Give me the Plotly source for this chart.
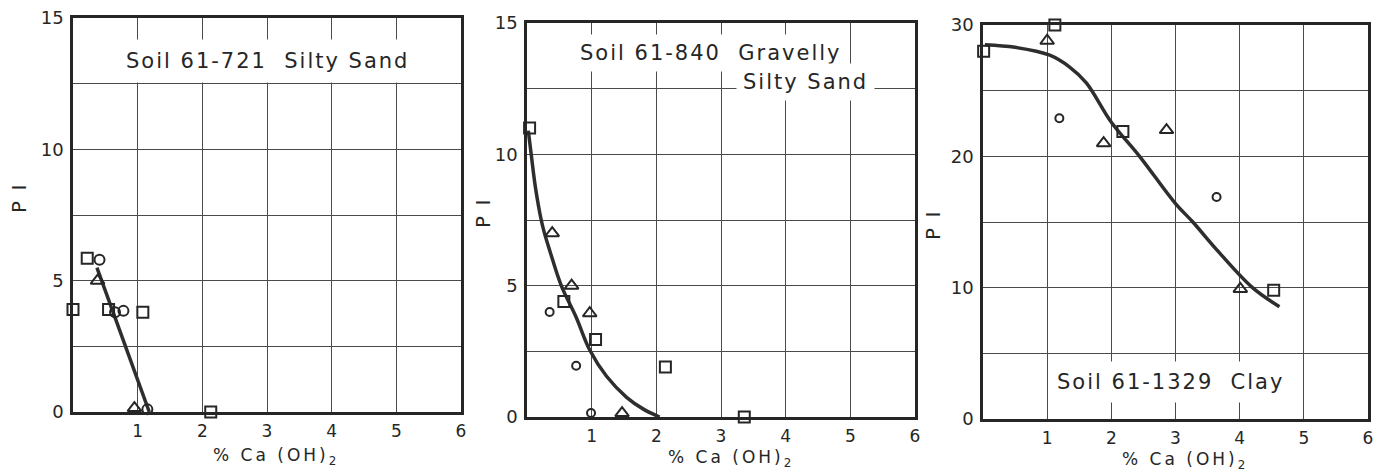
import plotly.graph_objects as go

W, H = 1377, 473

# ---------------- data ----------------
# Panel 1: Soil 61-721 Silty Sand
p1_sq_x = [0.0, 0.22, 0.55, 1.08, 2.13]
p1_sq_y = [3.9, 5.85, 3.9, 3.8, 0.0]
p1_ci_x = [0.41, 0.65, 0.78, 1.15]
p1_ci_y = [5.8, 3.8, 3.85, 0.1]
p1_tr_x = [0.38, 0.95]
p1_tr_y = [5.0, 0.15]
p1_fit_x = [0.37, 1.18]
p1_fit_y = [5.5, 0.0]

# Panel 2: Soil 61-840 Gravelly Silty Sand
p2_sq_x = [0.04, 0.57, 1.06, 2.14, 3.36]
p2_sq_y = [11.0, 4.4, 2.95, 1.9, 0.0]
p2_ci_x = [0.35, 0.76, 0.99]
p2_ci_y = [4.0, 1.95, 0.15]
p2_tr_x = [0.39, 0.69, 0.97, 1.47]
p2_tr_y = [7.0, 5.0, 3.95, 0.15]
p2_fit_x = [0.02, 0.07, 0.13, 0.22, 0.27, 0.35, 0.53, 0.76, 0.97, 1.23, 1.54, 1.80, 2.05]
p2_fit_y = [10.9, 9.9, 8.75, 7.5, 7.0, 6.35, 5.0, 3.8, 2.55, 1.55, 0.75, 0.3, 0.0]

# Panel 3: Soil 61-1329 Clay
p3_sq_x = [0.01, 1.12, 2.18, 4.53]
p3_sq_y = [28.0, 30.0, 21.9, 9.8]
p3_ci_x = [1.19, 3.64]
p3_ci_y = [22.9, 16.9]
p3_tr_x = [1.0, 1.88, 2.86, 4.01]
p3_tr_y = [28.8, 21.0, 22.0, 9.9]
p3_fit_x = [0.03, 0.5, 1.04, 1.35, 1.61, 2.0, 2.44, 3.0, 3.27, 3.64, 4.2, 4.62]
p3_fit_y = [28.5, 28.3, 27.7, 26.8, 25.6, 22.6, 20.0, 16.4, 15.0, 12.9, 10.0, 8.55]

x_ticks = [1, 2, 3, 4, 5, 6]
y_ticks_15 = [0, 5, 10, 15]
y_ticks_30 = [0, 10, 20, 30]

label1 = "Soil 61-721  Silty Sand"
label2a = "Soil 61-840  Gravelly"
label2b = "Silty Sand"
label3 = "Soil 61-1329  Clay"
y_title = "P I"
x_title = "% Ca (OH)"

INK = "#262626"
GRID = "#4a4a4a"
FONT = "DejaVu Sans"


def spaced(text, ls):
    return f'<span style="letter-spacing:{ls}px">{text}</span>'


def px_x(p):
    return p / W


def px_y(p):
    return 1 - p / H


# plot-area pixel boxes (left, right, top, bottom)
boxes = [(73, 461, 18, 412), (527, 915, 23, 417), (983, 1368, 25, 419)]

fig = go.Figure()

panels = [
    (p1_sq_x, p1_sq_y, p1_ci_x, p1_ci_y, p1_tr_x, p1_tr_y, p1_fit_x, p1_fit_y, "linear", 10),
    (p2_sq_x, p2_sq_y, p2_ci_x, p2_ci_y, p2_tr_x, p2_tr_y, p2_fit_x, p2_fit_y, "spline", 8),
    (p3_sq_x, p3_sq_y, p3_ci_x, p3_ci_y, p3_tr_x, p3_tr_y, p3_fit_x, p3_fit_y, "spline", 8),
]

for i, (sx, sy, cx, cy, tx, ty, fx, fy, shape, csize) in enumerate(panels):
    xa = "x" if i == 0 else f"x{i+1}"
    ya = "y" if i == 0 else f"y{i+1}"
    fig.add_trace(go.Scatter(x=fx, y=fy, mode="lines", xaxis=xa, yaxis=ya,
                             line=dict(color="#2e2e2e", width=3.5, shape=shape, smoothing=1.0),
                             showlegend=False, cliponaxis=False))
    fig.add_trace(go.Scatter(x=sx, y=sy, mode="markers", xaxis=xa, yaxis=ya,
                             marker=dict(symbol="square-open", size=11, color=INK,
                                         line=dict(width=2, color=INK)),
                             showlegend=False, cliponaxis=False))
    fig.add_trace(go.Scatter(x=cx, y=cy, mode="markers", xaxis=xa, yaxis=ya,
                             marker=dict(symbol="circle-open", size=csize, color=INK,
                                         line=dict(width=2, color=INK)),
                             showlegend=False, cliponaxis=False))
    fig.add_trace(go.Scatter(x=tx, y=ty, mode="markers", xaxis=xa, yaxis=ya,
                             marker=dict(symbol="triangle-up-open", size=12, color=INK,
                                         line=dict(width=2, color=INK)),
                             showlegend=False, cliponaxis=False))

layout = dict(template="none", width=W, height=H, autosize=False,
              margin=dict(l=0, r=0, t=0, b=0, pad=0, autoexpand=False),
              paper_bgcolor="white", plot_bgcolor="white", showlegend=False)

for i, (l, r, t, b) in enumerate(boxes):
    xk = "xaxis" if i == 0 else f"xaxis{i+1}"
    yk = "yaxis" if i == 0 else f"yaxis{i+1}"
    anchor_x = "y" if i == 0 else f"y{i+1}"
    anchor_y = "x" if i == 0 else f"x{i+1}"
    ymax = 30 if i == 2 else 15
    yt = y_ticks_30 if i == 2 else y_ticks_15
    ystep = 5 if i == 2 else 2.5
    layout[xk] = dict(domain=[px_x(l), px_x(r)], anchor=anchor_x, range=[0, 6],
                      tickvals=x_ticks, ticktext=[str(v) for v in x_ticks],
                      showgrid=True, gridcolor=GRID, gridwidth=1, automargin=False,
                      showline=True, linecolor=INK, linewidth=2.5, mirror=True,
                      zeroline=False, ticks="", ticklabelstandoff=2,
                      tickfont=dict(family=FONT, size=17, color=INK), fixedrange=True)
    layout[yk] = dict(domain=[px_y(b), px_y(t)], anchor=anchor_y, range=[0, ymax],
                      tickvals=yt, ticktext=[str(v) for v in yt],
                      showgrid=True, gridcolor=GRID, gridwidth=1, automargin=False,
                      minor=dict(dtick=ystep, tick0=0, showgrid=True, gridcolor=GRID, gridwidth=1),
                      showline=True, linecolor=INK, linewidth=2.5, mirror=True,
                      zeroline=False, ticks="", ticklabelstandoff=3,
                      tickfont=dict(family=FONT, size=18, color=INK), fixedrange=True)

fig.update_layout(**layout)

ann = []
lab_font = dict(family=FONT, size=21, color=INK)
ann.append(dict(text=spaced(label1, 2), x=3.0, y=13.36, xref="x", yref="y", showarrow=False,
                xanchor="center", yanchor="middle",
                font=lab_font, bgcolor="white", borderpad=9))
ann.append(dict(text=spaced(label2a, 2), x=2.83, y=13.87, xref="x2", yref="y2", showarrow=False,
                xanchor="center", yanchor="middle",
                font=lab_font, bgcolor="white", borderpad=6))
ann.append(dict(text=spaced(label2b, 2), x=4.31, y=12.76, xref="x2", yref="y2", showarrow=False,
                xanchor="center", yanchor="middle",
                font=lab_font, bgcolor="white", borderpad=6))
ann.append(dict(text=spaced(label3, 2), x=2.92, y=2.84, xref="x3", yref="y3", showarrow=False,
                xanchor="center", yanchor="middle",
                font=lab_font, bgcolor="white", borderpad=8))

for (xp, yp) in [(19, 198), (483, 213), (933, 225)]:
    ann.append(dict(text=spaced(y_title, 2), x=px_x(xp), y=px_y(yp), xref="paper", yref="paper",
                    xanchor="center", yanchor="middle",
                    showarrow=False, textangle=-90, font=dict(family=FONT, size=20, color=INK)))
for (xp, yp) in [(274, 456), (729, 458), (1183, 460)]:
    ann.append(dict(text=spaced(x_title, 3) + "<sub>2</sub>", x=px_x(xp), y=px_y(yp),
                    xref="paper", yref="paper", xanchor="center", yanchor="middle",
                    showarrow=False, font=dict(family=FONT, size=17, color=INK)))

fig.update_layout(annotations=ann)
fig.write_html("out.html",
               post_script="document.body.style.margin='0';document.body.style.overflow='hidden';")
